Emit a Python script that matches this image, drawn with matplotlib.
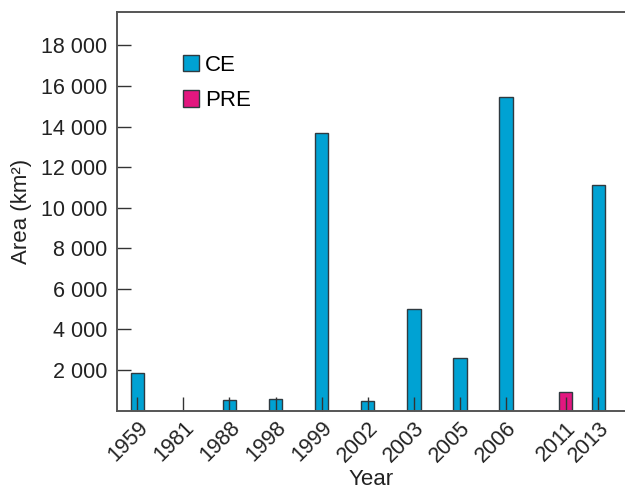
import matplotlib
matplotlib.use("Agg")
import matplotlib.pyplot as plt
import numpy as np

plt.rcParams["font.family"] = ["Liberation Sans", "DejaVu Sans"]

# values (km^2); None = no bar
years = ["1959", "1981", "1988", "1998", "1999", "2002", "2003", "2005", "2006", "2011", "2013"]
ce = [1840, None, 520, 570, 13700, 470, 5000, 2580, 15440, None, 11120]
pre = [None, None, None, None, None, None, None, None, None, 930, None]
yticks = list(range(2000, 18001, 2000))

CE_COL = "#00a2d3"
PRE_COL = "#e2177f"
EDGE = "#2f3a40"
W = 0.29

x = np.arange(len(years), dtype=float)
fig = plt.figure(figsize=(6.25, 4.91), dpi=100)
ax = fig.add_axes([0.1867, 0.1637, 0.8133, 0.8119])

ce_x = [xi for xi, v in zip(x, ce) if v is not None]
ce_v = [v for v in ce if v is not None]
pre_x = [xi + W for xi, v in zip(x, pre) if v is not None]
pre_v = [v for v in pre if v is not None]
ax.bar(ce_x, ce_v, width=W, color=CE_COL, edgecolor=EDGE, linewidth=1.0, label="CE")
ax.bar(pre_x, pre_v, width=W, color=PRE_COL, edgecolor=EDGE, linewidth=1.0, label="PRE")

tick_x = [xi + W if p is not None else xi for xi, p in zip(x, pre)]
ax.set_xticks(tick_x)
ax.set_xticklabels(years, rotation=45, ha="right", rotation_mode="anchor")
ax.set_yticks(yticks)
ax.set_yticklabels([f"{v:,}".replace(",", " ") for v in yticks])
ax.set_xlim(-0.447, 10.58)
ax.set_ylim(0, 19650)

ax.tick_params(axis="both", direction="in", length=10, width=1.0, color="#333333",
               labelsize=15.5, labelcolor="#222222")
ax.tick_params(axis="y", pad=7)
ax.tick_params(axis="x", pad=5)
for s in ["left", "top", "bottom"]:
    ax.spines[s].set_color("#555555")
    ax.spines[s].set_linewidth(1.4)
ax.spines["right"].set_visible(False)

ax.set_xlabel("Year", fontsize=16, color="#222222", labelpad=2)
ax.set_ylabel("Area (km²)", fontsize=16, color="#222222", labelpad=6)

ax.legend(loc="upper left", bbox_to_anchor=(0.112, 0.915), frameon=False, fontsize=16,
          handlelength=0.75, handleheight=0.75, handletextpad=0.25, labelspacing=0.65,
          borderaxespad=0)

fig.savefig("out.png", dpi=100)
